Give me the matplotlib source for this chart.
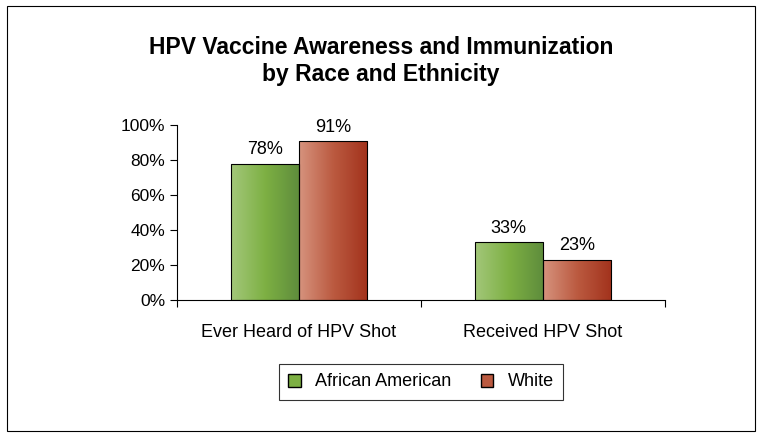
import numpy as np
import matplotlib
matplotlib.use("Agg")
import matplotlib.pyplot as plt
from matplotlib.colors import LinearSegmentedColormap
from matplotlib.patches import Rectangle, Patch

categories = ["Ever Heard of HPV Shot", "Received HPV Shot"]
african_american = [78, 33]
white = [91, 23]
series_names = ["African American", "White"]
yticks = [0, 20, 40, 60, 80, 100]

plt.rcParams['font.family'] = ['Liberation Sans', 'DejaVu Sans']

green_cmap = LinearSegmentedColormap.from_list("g", ["#a3c77a", "#7db043", "#5e8c3c"])
red_cmap = LinearSegmentedColormap.from_list("r", ["#d6937e", "#bb5a40", "#a2321c"])

fig = plt.figure(figsize=(7.63, 4.34), dpi=100)
# outer border
fig.patches.append(Rectangle((0.009, 0.007), 0.981, 0.98, transform=fig.transFigure,
                             fill=False, edgecolor="black", linewidth=0.8))

ax = fig.add_axes([177 / 763, 1 - 300 / 434, 488 / 763, 175 / 434])

width = 0.28
x = np.arange(len(categories)) + 0.5
grad = np.linspace(0, 1, 256).reshape(1, -1)


def gradient_bars(xs, vals, cmap):
    bars = ax.bar(xs, vals, width, align="edge", facecolor="none",
                  edgecolor="black", linewidth=0.8, zorder=3)
    for b in bars:
        x0, w, h = b.get_x(), b.get_width(), b.get_height()
        im = ax.imshow(grad, cmap=cmap, aspect="auto", extent=(x0, x0 + w, 0, h),
                       zorder=2)
        im.set_clip_path(b)
    return bars


gb = gradient_bars(x - width, african_american, green_cmap)
rb = gradient_bars(x, white, red_cmap)

for bars, vals in [(gb, african_american), (rb, white)]:
    for b, v in zip(bars, vals):
        ax.text(b.get_x() + b.get_width() / 2, v + 3, f"{v}%",
                ha="center", va="bottom", fontsize=13)

ax.set_xlim(0, 2)
ax.set_ylim(0, 100)
ax.set_yticks(yticks)
ax.set_yticklabels([f"{t}%" for t in yticks], fontsize=12.5)
ax.set_xticks([0, 1, 2])
ax.set_xticklabels([])
ax.set_xticks(x, minor=True)
ax.set_xticklabels(categories, minor=True, fontsize=13)
ax.tick_params(axis="x", which="minor", length=0, pad=17)
ax.tick_params(axis="x", which="major", length=5, direction="out")
ax.tick_params(axis="y", length=5, direction="out")
ax.spines["top"].set_visible(False)
ax.spines["right"].set_visible(False)

fig.text(0.499, 1 - 61 / 434, "HPV Vaccine Awareness and Immunization\nby Race and Ethnicity",
         ha="center", va="center", fontsize=16.5, fontweight="bold", linespacing=1.2)

handles = [Patch(facecolor="#7db043", edgecolor="black"),
           Patch(facecolor="#bb5a40", edgecolor="black")]
leg = fig.legend(handles, series_names, loc="center", bbox_to_anchor=(421 / 763, 1 - 382 / 434),
                 ncol=2, fontsize=13, frameon=True, fancybox=False, edgecolor="black",
                 handlelength=0.7, handleheight=0.7, handletextpad=0.8, columnspacing=1.6,
                 borderpad=0.5, borderaxespad=0)
leg.get_frame().set_linewidth(0.8)

fig.savefig("out.png", dpi=100)
